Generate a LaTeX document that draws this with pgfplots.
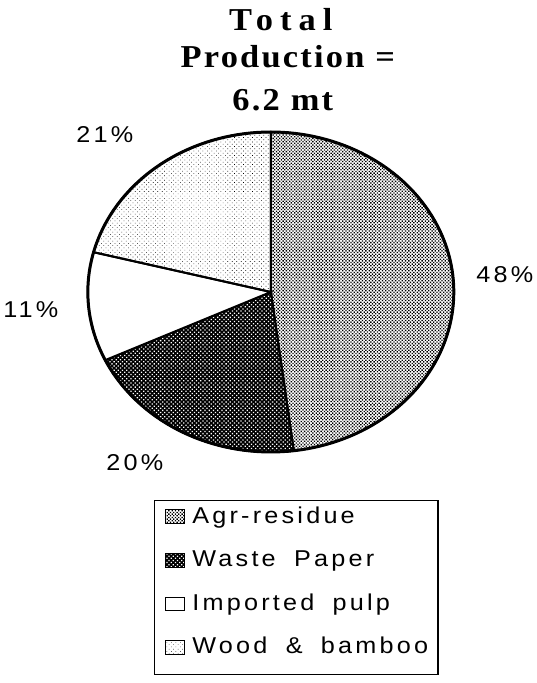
\documentclass[border=0pt]{standalone}
\usepackage{fontspec}
\setmainfont{Liberation Sans}
\newfontfamily\legfont[LetterSpace=14, FakeStretch=1.1, WordSpace=1.8]{Liberation Sans}
\newfontfamily\titfont[LetterSpace=7, FakeStretch=1.08]{Liberation Serif}
\newfontfamily\titfontwide[LetterSpace=22, FakeStretch=1.08]{Liberation Serif}
\usepackage{pgfplots}
\pgfplotsset{compat=1.18}
\usetikzlibrary{patterns,patterns.meta}
\tikzset{
  agr/.style={pattern={Dots[distance=2.35pt, angle=45, radius=0.95pt]}, pattern color=black},
  waste/.style={fill=black, postaction={pattern={Dots[distance=3pt, angle=45, radius=0.9pt]}, pattern color=white}},
  imported/.style={fill=white},
  wood/.style={pattern={Dots[distance=3.2pt, angle=45, radius=0.45pt]}, pattern color=black},
}
\newcommand{\lf}{\legfont\fontsize{23}{28}\selectfont}
\newcommand{\tf}{\titfont\bfseries\fontsize{32}{36}\selectfont}
\newcommand{\tfw}{\titfontwide\bfseries\fontsize{32}{36}\selectfont}
\begin{document}
\begin{tikzpicture}
\begin{axis}[
  width=535bp, height=683bp, scale only axis,
  xmin=0, xmax=535, ymin=0, ymax=683,
  hide axis, clip=false,
  legend cell align=left,
  legend image code/.code={\draw[#1, line width=1pt] (0pt,-1.5pt) rectangle (20pt,12.5pt);},
  legend style={at={(axis cs:152,183)}, anchor=north west, draw=black, line width=1.5pt, fill=white,
    font=\lf, inner xsep=10pt, inner ysep=6pt, row sep=12.2pt,
    nodes={inner sep=0pt, text height=16.5pt, text depth=15pt},
    /tikz/every odd column/.append style={column sep=7pt}},
]
\path (axis cs:0,0) rectangle (axis cs:535,683);
% shares (%): Agr-residue 48, Waste Paper 20, Imported pulp 11, Wood & bamboo 21
% slices start at 12 o'clock, clockwise; 1% = 3.6 degrees
\addplot[draw=black, line width=2pt, agr, domain=-82.8:90, samples=100]
  ({269+183*cos(x)}, {391+160*sin(x)}) -- (axis cs:269,391) -- cycle;
\addlegendentry{Agr-residue}
\addplot[draw=black, line width=2pt, waste, domain=-154.8:-82.8, samples=50]
  ({269+183*cos(x)}, {391+160*sin(x)}) -- (axis cs:269,391) -- cycle;
\addlegendentry{Waste Paper}
\addplot[draw=black, line width=2pt, imported, domain=-194.4:-154.8, samples=30]
  ({269+183*cos(x)}, {391+160*sin(x)}) -- (axis cs:269,391) -- cycle;
\addlegendentry{Imported pulp}
\addplot[draw=black, line width=2pt, wood, domain=-270:-194.4, samples=50]
  ({269+183*cos(x)}, {391+160*sin(x)}) -- (axis cs:269,391) -- cycle;
\addlegendentry{Wood \& bamboo}
\addplot[draw=black, line width=3pt, domain=0:360, samples=180, forget plot]
  ({269+183*cos(x)}, {391+160*sin(x)});
\node[font=\lf] at (axis cs:503,408) {48\%};
\node[font=\lf] at (axis cs:103,548) {21\%};
\node[font=\lf] at (axis cs:29,373) {11\%};
\node[font=\lf] at (axis cs:133,220) {20\%};
\node[font=\tfw, anchor=base] at (axis cs:279,652) {Total};
\node[font=\tf, anchor=base] at (axis cs:286,615) {Production =};
\node[font=\tf, anchor=base] at (axis cs:281,572) {6.2 mt};
\end{axis}
\end{tikzpicture}
\end{document}
